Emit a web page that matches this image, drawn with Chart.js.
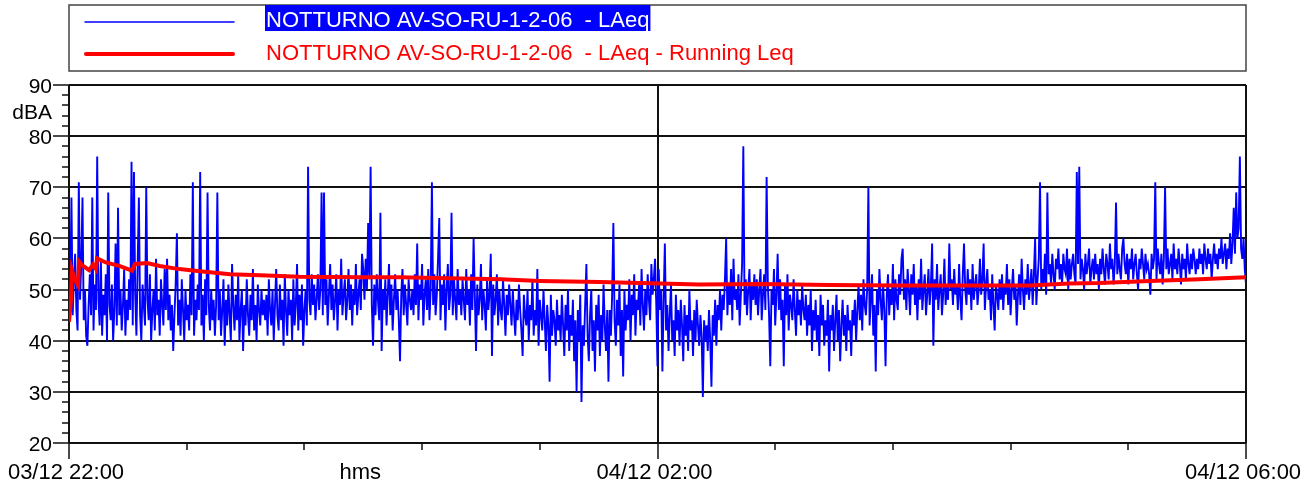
<!DOCTYPE html>
<html>
<head>
<meta charset="utf-8">
<script src="https://cdn.jsdelivr.net/npm/chart.js@4/dist/chart.umd.min.js"></script>
<style>
  body { margin: 0; background: #fff; }
  canvas { display: block; }
</style>
</head>
<body>
<canvas id="myChart" width="1314" height="490"></canvas>
<script>
const seriesNames = [
  "NOTTURNO AV-SO-RU-1-2-06  - LAeq",
  "NOTTURNO AV-SO-RU-1-2-06  - LAeq - Running Leq",
];
const xTickMinutes = [0, 120, 240, 480];
const xTickLabels = ["03/12 22:00", "hms", "04/12 02:00", "04/12 06:00"];
const yTickValues = [20, 30, 40, 50, 60, 70, 80, 90];
const yUnit = "dBA";

// LAeq, one reading every 30 s from 22:00 to 06:00 (20 minutes a row)
const laeq = [
  44, 49, 68, 45, 52, 57, 46, 42, 71, 48, 55, 68, 44, 50, 41, 39, 47, 53, 45, 68,
  42, 51, 46, 76, 48, 43, 56, 41, 49, 45, 53, 40, 69, 47, 44, 51, 40, 46, 59, 43,
  66, 45, 50, 42, 47, 54, 41, 48, 44, 52, 46, 75, 43, 73, 49, 41, 55, 68, 45, 40,
  51, 47, 43, 70, 48, 44, 53, 40, 46, 50, 42, 56, 45, 48, 41, 52, 47, 43, 54, 46,
  56, 44, 49, 42, 47, 38, 45, 51, 61, 43, 48, 41, 52, 46, 40, 50, 44, 47, 42, 53,
  45, 71, 41, 48, 44, 51, 46, 73, 43, 49, 40, 52, 45, 69, 47, 42, 50, 44, 48, 41,
  47, 69, 44, 50, 41, 46, 52, 39, 48, 43, 51, 45, 40, 55, 47, 42, 49, 44, 53, 40,
  46, 50, 38, 47, 43, 52, 45, 41, 49, 44, 54, 42, 47, 40, 51, 46, 43, 50, 45, 48,
  44, 49, 41, 52, 46, 43, 50, 40, 47, 54, 45, 42, 51, 44, 48, 39, 53, 46, 41, 50,
  45, 48, 40, 52, 43, 47, 55, 42, 49, 44, 51, 39, 46, 50, 43, 74, 48, 45, 53, 47,
  51, 44, 48, 53, 46, 50, 69, 45, 69, 47, 52, 43, 49, 55, 46, 51, 44, 48, 53, 42,
  50, 47, 56, 45, 49, 52, 44, 48, 54, 46, 51, 43, 50, 47, 55, 45, 49, 52, 46, 57,
  54, 48, 56, 50, 63, 52, 74, 47, 39, 51, 45, 53, 48, 44, 65, 38, 50, 46, 52, 43,
  49, 55, 45, 51, 42, 48, 53, 46, 50, 44, 36, 49, 54, 45, 51, 47, 43, 52, 48, 46,
  50, 45, 53, 47, 59, 44, 51, 48, 55, 43, 49, 52, 46, 54, 44, 50, 71, 47, 53, 45,
  49, 56, 64, 44, 51, 47, 53, 42, 50, 55, 46, 49, 65, 45, 52, 48, 44, 54, 47, 50,
  45, 52, 48, 44, 54, 47, 50, 43, 53, 46, 60, 49, 38, 51, 45, 48, 55, 44, 50, 47,
  42, 52, 46, 49, 57, 37, 51, 45, 48, 53, 43, 50, 46, 44, 52, 47, 41, 49, 45, 51,
  47, 43, 50, 45, 41, 48, 44, 51, 46, 42, 37, 49, 45, 43, 50, 40, 47, 44, 52, 41,
  46, 43, 54, 39, 48, 45, 42, 50, 44, 38, 47, 43, 32, 49, 41, 46, 44, 39, 48, 42,
  45, 40, 49, 43, 37, 47, 42, 50, 38, 45, 41, 48, 36, 44, 30, 46, 40, 49, 28, 43,
  39, 47, 55, 41, 36, 45, 50, 38, 44, 34, 47, 42, 49, 37, 45, 40, 51, 43, 38, 46,
  32, 46, 41, 49, 63, 44, 39, 48, 43, 51, 37, 46, 33, 50, 42, 47, 44, 52, 40, 49,
  45, 53, 41, 48, 46, 51, 43, 54, 47, 42, 50, 45, 53, 48, 44, 55, 49, 52, 56, 47,
  35, 54, 46, 50, 34, 48, 59, 42, 47, 38, 45, 51, 40, 44, 37, 49, 42, 46, 39, 48,
  43, 36, 47, 41, 45, 38, 50, 42, 44, 37, 46, 40, 48, 43, 39, 45, 41, 29, 44, 40,
  43, 38, 46, 40, 31, 45, 41, 48, 39, 47, 44, 50, 42, 49, 46, 52, 60, 45, 51, 47,
  54, 44, 56, 48, 50, 46, 53, 43, 49, 55, 78, 47, 52, 45, 50, 54, 44, 51, 48, 53,
  47, 52, 45, 50, 54, 44, 49, 53, 46, 72, 51, 45, 35, 50, 47, 54, 43, 49, 57, 46,
  52, 44, 48, 35, 51, 45, 53, 42, 49, 47, 44, 52, 46, 41, 50, 45, 48, 43, 51, 46,
  44, 49, 41, 47, 43, 50, 38, 46, 42, 48, 40, 45, 37, 49, 43, 47, 39, 44, 41, 48,
  34, 45, 42, 47, 38, 44, 49, 40, 46, 36, 43, 48, 41, 45, 38, 47, 42, 44, 37, 46,
  43, 48, 40, 46, 51, 44, 49, 42, 52, 47, 45, 50, 70, 43, 48, 53, 41, 47, 34, 50,
  45, 54, 48, 44, 51, 46, 35, 49, 53, 45, 50, 47, 55, 44, 52, 48, 46, 53, 49, 56,
  58, 48, 52, 46, 54, 50, 45, 53, 49, 55, 47, 51, 44, 52, 48, 56, 46, 50, 53, 45,
  49, 54, 47, 51, 59, 39, 52, 48, 55, 46, 50, 53, 45, 49, 56, 47, 51, 48, 59, 50,
  52, 47, 54, 49, 51, 46, 55, 48, 44, 53, 59, 50, 47, 54, 49, 52, 46, 55, 48, 51,
  53, 47, 50, 56, 49, 52, 59, 46, 51, 54, 48, 50, 44, 53, 47, 42, 51, 49, 46, 52,
  48, 53, 46, 51, 49, 55, 47, 52, 45, 50, 54, 48, 51, 43, 49, 53, 47, 56, 50, 46,
  52, 49, 55, 48, 51, 54, 47, 53, 60, 47, 52, 56, 71, 50, 54, 51, 57, 49, 69, 53,
  55, 51, 57, 53, 50, 56, 54, 58, 52, 55, 51, 57, 54, 53, 58, 50, 56, 52, 55, 57,
  53, 51, 73, 55, 74, 52, 56, 54, 50, 57, 53, 55, 58, 51, 54, 56, 52, 57, 53, 55,
  50, 56, 53, 58, 54, 51, 57, 55, 52, 59, 54, 56, 51, 55, 67, 53, 57, 54, 52, 58,
  60, 55, 53, 57, 51, 56, 54, 58, 52, 55, 57, 53, 50, 56, 54, 58, 55, 52, 57, 54,
  55, 53, 49, 57, 54, 56, 71, 52, 58, 55, 53, 57, 51, 56, 70, 54, 58, 53, 55, 57,
  52, 59, 54, 56, 53, 58, 55, 51, 57, 54, 56, 52, 59, 55, 53, 57, 54, 58, 56, 53,
  56, 54, 58, 55, 57, 53, 59, 56, 54, 58, 55, 57, 52, 56, 59, 55, 57, 54, 58, 56,
  60, 55, 57, 59, 54, 58, 56, 61, 55, 59, 66, 57, 69, 60, 62, 76, 58, 56, 60, 54,
  51,
];

// running Leq, read at the minutes where it changes
const runningMinutes = [
  0, 0.8, 1.2, 2.4, 3.7, 4.1, 5.3, 8.2, 9.8, 11, 11.4, 15, 20.8, 25.7, 26.9,
  31.8, 37, 45, 53.4, 65.7, 78, 94, 119, 135, 155, 176, 192, 216.5, 241, 257,
  282, 310, 339, 367, 392, 408, 420, 441, 461, 480,
];
const runningLeq = [
  43.7, 48, 53.8, 51.9, 50.8, 55.5, 54.8, 53.8, 54.9, 54, 56.1, 55.3, 54.6, 53.7, 55,
  55.2, 54.6, 54, 53.6, 53, 52.8, 52.5, 52.4, 52.4, 52.2, 52, 51.7, 51.5, 51.2, 51,
  51.1, 50.9, 50.8, 50.8, 50.8, 51.2, 51.3, 51.7, 52, 52.4,
];

const FONT = '"Liberation Sans", Arial, sans-serif';

const axisDecor = {
  id: "axisDecor",
  afterDraw(chart) {
    const { ctx, chartArea } = chart;
    const x = chart.scales.x;
    const y = chart.scales.y;
    ctx.save();

    // tick marks
    ctx.strokeStyle = "#111";
    ctx.lineWidth = 1.5;
    ctx.beginPath();
    for (let v = 20; v <= 90; v += 2) {
      const py = Math.round(y.getPixelForValue(v));
      const len = v % 10 === 0 ? 16 : 7;
      ctx.moveTo(chartArea.left - len, py);
      ctx.lineTo(chartArea.left, py);
    }
    for (let m = 0; m <= 480; m += 48) {
      const px = Math.round(x.getPixelForValue(m));
      const len = m % 240 === 0 ? 16 : 7;
      ctx.moveTo(px, chartArea.bottom);
      ctx.lineTo(px, chartArea.bottom + len);
    }
    ctx.stroke();

    // y labels
    ctx.fillStyle = "#000";
    ctx.font = "21px " + FONT;
    ctx.textAlign = "right";
    ctx.textBaseline = "alphabetic";
    yTickValues.forEach((v) => {
      ctx.fillText(String(v), chartArea.left - 17, y.getPixelForValue(v) + 8);
    });
    ctx.fillText(yUnit, chartArea.left - 17, y.getPixelForValue(85) + 8.5);

    // x labels
    ctx.font = "22px " + FONT;
    ctx.textAlign = "center";
    xTickMinutes.forEach((m, i) => {
      ctx.fillText(xTickLabels[i], x.getPixelForValue(m) - 3, chartArea.bottom + 36);
    });

    // legend box
    const boxTop = 5;
    const boxBottom = 71;
    ctx.strokeStyle = "#444";
    ctx.lineWidth = 1.5;
    ctx.strokeRect(chartArea.left, boxTop, chartArea.right - chartArea.left, boxBottom - boxTop);

    ctx.lineCap = "round";
    ctx.strokeStyle = "#0000ff";
    ctx.lineWidth = 1.5;
    ctx.beginPath();
    ctx.moveTo(85, 22);
    ctx.lineTo(234, 22);
    ctx.stroke();
    ctx.strokeStyle = "#ff0000";
    ctx.lineWidth = 4;
    ctx.beginPath();
    ctx.moveTo(86, 54);
    ctx.lineTo(233, 54);
    ctx.stroke();

    ctx.font = "22px " + FONT;
    ctx.textAlign = "left";
    const w = ctx.measureText(seriesNames[0]).width;
    ctx.fillStyle = "#0000ff";
    ctx.fillRect(265, 5, w + 2, 26);
    ctx.fillStyle = "#fff";
    ctx.fillText(seriesNames[0], 266, 27);
    ctx.fillStyle = "#ff0000";
    ctx.fillText(seriesNames[1], 266, 60);

    ctx.restore();
  },
};

function createChart() {
  const data = {
    datasets: [
      {
        label: seriesNames[1],
        data: runningMinutes.map((m, i) => ({ x: m, y: runningLeq[i] })),
        borderColor: "#ff0000",
        borderWidth: 4,
        pointRadius: 0,
        tension: 0,
        order: 0,
      },
      {
        label: seriesNames[0],
        data: laeq.map((v, i) => ({ x: i / 2, y: v })),
        borderColor: "#0000ff",
        borderWidth: 1.9,
        pointRadius: 0,
        tension: 0,
        order: 1,
      },
    ],
  };

  const config = {
    type: "line",
    data,
    options: {
      responsive: false,
      animation: false,
      events: [],
      layout: { padding: { left: 69, right: 68, top: 85, bottom: 47 } },
      plugins: { legend: { display: false }, tooltip: { enabled: false } },
      scales: {
        x: {
          type: "linear",
          min: 0,
          max: 480,
          ticks: { display: false, stepSize: 240 },
          grid: { color: "#111", lineWidth: 2, drawTicks: false },
          border: { display: false },
        },
        y: {
          min: 20,
          max: 90,
          ticks: { display: false, stepSize: 10 },
          grid: { color: "#111", lineWidth: 2, drawTicks: false },
          border: { display: false },
        },
      },
    },
    plugins: [axisDecor],
  };
  new Chart(document.getElementById("myChart"), config);
}

document.addEventListener("DOMContentLoaded", () => {
  createChart();
});
</script>
</body>
</html>
